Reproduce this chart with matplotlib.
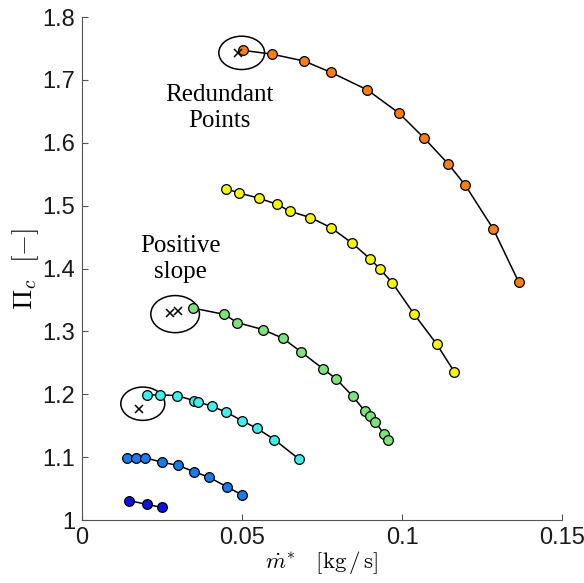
import matplotlib
matplotlib.use("Agg")
from matplotlib import pyplot as plt
from matplotlib import patches

plt.rcParams['mathtext.fontset'] = 'cm'

# compressor lines, mass flow [kg/s] and pressure ratio [-]
m_dark = [0.0147, 0.0202, 0.0250]
pi_dark = [1.031, 1.025, 1.020]

m_blue = [0.0141, 0.0169, 0.0198, 0.0249, 0.0299, 0.0350, 0.0397, 0.0452, 0.0500]
pi_blue = [1.099, 1.099, 1.099, 1.092, 1.087, 1.077, 1.068, 1.053, 1.040]

m_cyan = [0.0202, 0.0245, 0.0297, 0.0349, 0.0363, 0.0405, 0.0449, 0.0500, 0.0546, 0.0601, 0.0678]
pi_cyan = [1.199, 1.199, 1.198, 1.190, 1.188, 1.181, 1.172, 1.158, 1.146, 1.128, 1.097]

m_green = [0.0348, 0.0445, 0.0485, 0.0565, 0.0628, 0.0683, 0.0752, 0.0795, 0.0846, 0.0884,
           0.0900, 0.0917, 0.0943, 0.0955]
pi_green = [1.337, 1.327, 1.314, 1.303, 1.289, 1.268, 1.241, 1.224, 1.197, 1.173,
            1.165, 1.156, 1.137, 1.127]

m_yellow = [0.0450, 0.0492, 0.0552, 0.0610, 0.0650, 0.0714, 0.0778, 0.0845, 0.0901, 0.0930,
            0.0970, 0.1037, 0.1108, 0.1163]
pi_yellow = [1.527, 1.520, 1.512, 1.502, 1.491, 1.481, 1.465, 1.440, 1.415, 1.400,
             1.377, 1.328, 1.280, 1.236]

m_orange = [0.0504, 0.0593, 0.0694, 0.0778, 0.0892, 0.0991, 0.1070, 0.1145, 0.1197, 0.1285, 0.1365]
pi_orange = [1.747, 1.741, 1.730, 1.712, 1.684, 1.647, 1.607, 1.566, 1.533, 1.463, 1.378]

# discarded points
m_removed = [0.0179, 0.0275, 0.0301, 0.0489]
pi_removed = [1.176, 1.330, 1.333, 1.742]

series = [
    (m_dark, pi_dark, '#1010e0'),
    (m_blue, pi_blue, '#1a7aec'),
    (m_cyan, pi_cyan, '#40ecec'),
    (m_green, pi_green, '#80e080'),
    (m_yellow, pi_yellow, '#f5f50a'),
    (m_orange, pi_orange, '#f57f14'),
]

fig = plt.figure(figsize=(5.84, 5.83), dpi=100)
ax = fig.add_axes([0.1404, 0.108, 0.822, 0.8628])

for m, p, c in series:
    ax.plot(m, p, '-o', color='black', lw=1.1, ms=7, mfc=c, mec='black', mew=0.9)

ax.plot(m_removed, pi_removed, 'x', color='black', ms=5.5, mew=1.1)

# circles around problem points
for xc, yc, w, h in [(0.0499, 1.743, 0.0143, 0.053),
                     (0.0291, 1.3275, 0.0152, 0.059),
                     (0.0190, 1.185, 0.01375, 0.053)]:
    ax.add_patch(patches.Ellipse((xc, yc), w, h, fill=False, ec='black', lw=1.1))

ax.text(0.043, 1.655, 'Redundant\nPoints', ha='center', va='center',
        family='Liberation Serif', fontsize=18, linespacing=1.2)
ax.text(0.0307, 1.415, 'Positive\nslope', ha='center', va='center',
        family='Liberation Serif', fontsize=18, linespacing=1.2)

ax.set_xlim(0, 0.15)
ax.set_ylim(1, 1.8)
ax.set_xticks([0, 0.05, 0.1, 0.15])
ax.set_xticklabels(['0', '0.05', '0.1', '0.15'])
ax.set_yticks([1, 1.1, 1.2, 1.3, 1.4, 1.5, 1.6, 1.7, 1.8])
ax.set_yticklabels(['1', '1.1', '1.2', '1.3', '1.4', '1.5', '1.6', '1.7', '1.8'])

for s in ['top', 'right']:
    ax.spines[s].set_visible(False)
for s in ['left', 'bottom']:
    ax.spines[s].set_color('#555555')
    ax.spines[s].set_linewidth(0.8)
ax.tick_params(direction='in', length=4, width=0.8, color='#555555',
               labelsize=17, labelcolor='#1a1a1a', pad=5)
for lbl in ax.get_xticklabels() + ax.get_yticklabels():
    lbl.set_family('Liberation Sans')

ax.set_xlabel(r'$\dot{m}^{*}\ \ \ [\mathrm{kg\,/\,s}]$', fontsize=16.5, labelpad=0)
ax.set_ylabel(r'$\Pi_c\ \ [-]$', fontsize=19.5, labelpad=0)
ax.yaxis.set_label_coords(-0.085, 0.5)

fig.savefig('out.png', dpi=100)
